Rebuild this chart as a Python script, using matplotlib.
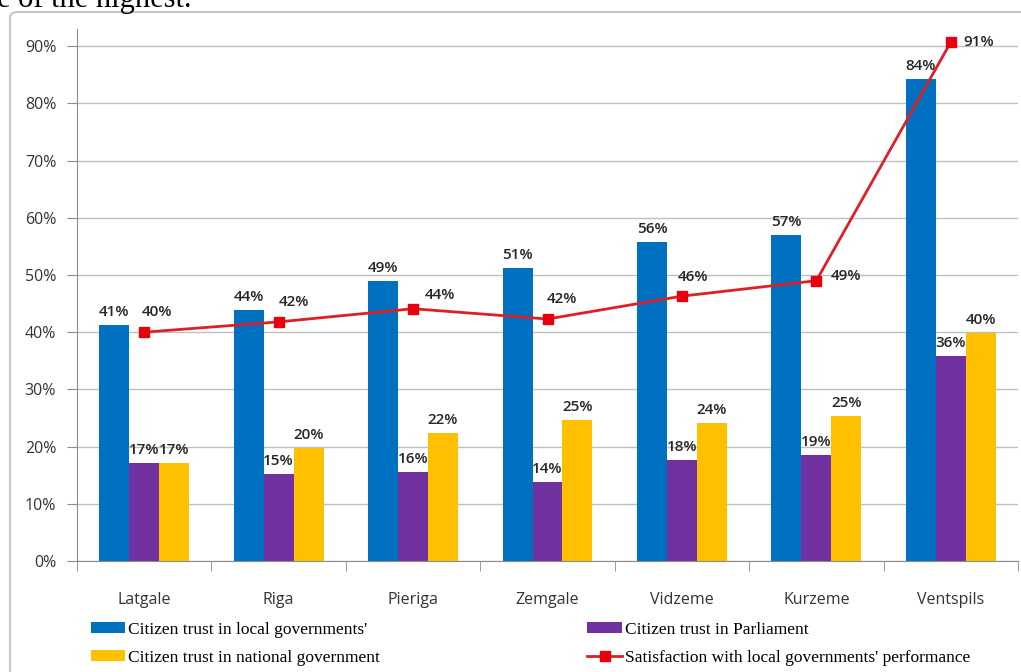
import numpy as np
import matplotlib.pyplot as plt
from matplotlib.patches import FancyBboxPatch
from matplotlib.ticker import PercentFormatter

#%% data
regions = ['Latgale', 'Riga', 'Pieriga', 'Zemgale', 'Vidzeme', 'Kurzeme', 'Ventspils']
trust_local = [41.3, 43.8, 48.9, 51.2, 55.7, 57.0, 84.3]
trust_parliament = [17.1, 15.2, 15.6, 13.8, 17.7, 18.5, 35.8]
trust_national = [17.1, 19.8, 22.4, 24.7, 24.1, 25.3, 39.9]
satisfaction = [40.0, 41.8, 44.1, 42.3, 46.3, 49.0, 90.7]

lab_local = ['41%', '44%', '49%', '51%', '56%', '57%', '84%']
lab_parl = ['17%', '15%', '16%', '14%', '18%', '19%', '36%']
lab_nat = ['17%', '20%', '22%', '25%', '24%', '25%', '40%']
lab_sat = ['40%', '42%', '44%', '42%', '46%', '49%', '91%']

# label offsets for the line (pixels, left edge / centre)
sat_off = [(-2, 20), (0, 20), (12, 14), (-1, 20), (-4, 19), (14, 5), (13, 0)]

#%% plot
fig = plt.figure(figsize=(10.21, 6.72), dpi=100)
ax = fig.add_axes([77/1021, 1-561/672, (1018-77)/1021, (561-29)/672])

# frame around chart and clipped caption line at the top
fig.patches.append(FancyBboxPatch((10/1021, -0.05), 1.1, 1-12/672+0.05,
                                  boxstyle='round,pad=0,rounding_size=0.008',
                                  transform=fig.transFigure, fc='none',
                                  ec='#c8c8c8', lw=1.5, zorder=0))
fig.text(-3/1021, 1-7/672, 'e of the highest.', family='Liberation Serif',
         fontsize=22, va='baseline', ha='left', color='black')

x = np.arange(len(regions))
w = 0.223
cols = ['#0070C0', '#7030A0', '#FFC000']
series = [trust_local, trust_parliament, trust_national]
labels = [lab_local, lab_parl, lab_nat]
names = ["Citizen trust in local governments'", 'Citizen trust in Parliament',
         'Citizen trust in national government']
handles = []
for i, (vals, labs, c, n) in enumerate(zip(series, labels, cols, names)):
    b = ax.bar(x + (i-1)*w, vals, w, color=c, label=n, zorder=2)
    handles.append(b)
    for xi, v, t in zip(x + (i-1)*w, vals, labs):
        ax.annotate(t, (xi, v), xytext=(0, 6), textcoords='offset pixels',
                    ha='center', va='bottom', fontsize=11, fontweight='semibold',
                    color='#262626', family='Open Sans')

ln, = ax.plot(x, satisfaction, color='#DD1F26', lw=2, marker='s', ms=6.5,
              mfc='#E8000F', mec='#E8000F', zorder=3,
              label="Satisfaction with local governments' performance")
for xi, v, t, (dx, dy) in zip(x, satisfaction, lab_sat, sat_off):
    ax.annotate(t, (xi, v), xytext=(dx, dy), textcoords='offset pixels',
                ha='left', va='center', fontsize=11, fontweight='semibold',
                color='#262626', family='Open Sans')

ax.set_xlim(-0.5, len(regions)-0.5)
ax.set_ylim(0, 93)
ax.set_yticks(np.arange(0, 91, 10))
ax.yaxis.set_major_formatter(PercentFormatter(decimals=0))
ax.grid(axis='y', color='#bfbfbf', lw=1, zorder=0)
ax.set_axisbelow(True)
for s in ['top', 'right']:
    ax.spines[s].set_visible(False)
for s in ['left', 'bottom']:
    ax.spines[s].set_color('#8c8c8c')
ax.set_xticks(x)
ax.set_xticklabels(regions)
ax.set_xticks(np.arange(-0.5, len(regions), 1), minor=True)
ax.tick_params(axis='x', which='major', length=0, pad=22, labelsize=11.5,
               labelcolor='#333333')
ax.tick_params(axis='x', which='minor', length=7, color='#8c8c8c')
ax.tick_params(axis='y', length=7, color='#8c8c8c', pad=8, labelsize=11.5,
               labelcolor='#333333')
for t in ax.get_xticklabels() + ax.get_yticklabels():
    t.set_family('Open Sans')

leg = fig.legend([handles[0], handles[2], handles[1], ln],
                 [names[0], names[2], names[1], ln.get_label()],
                 ncol=2, loc='upper left', bbox_to_anchor=(75/1021, 1-606/672),
                 frameon=False, prop={'family': 'Liberation Serif', 'size': 12.5},
                 handlelength=2.0, handleheight=0.55, handletextpad=0.15,
                 columnspacing=11.95, labelspacing=0.7)

fig.savefig('out.png', dpi=100)
